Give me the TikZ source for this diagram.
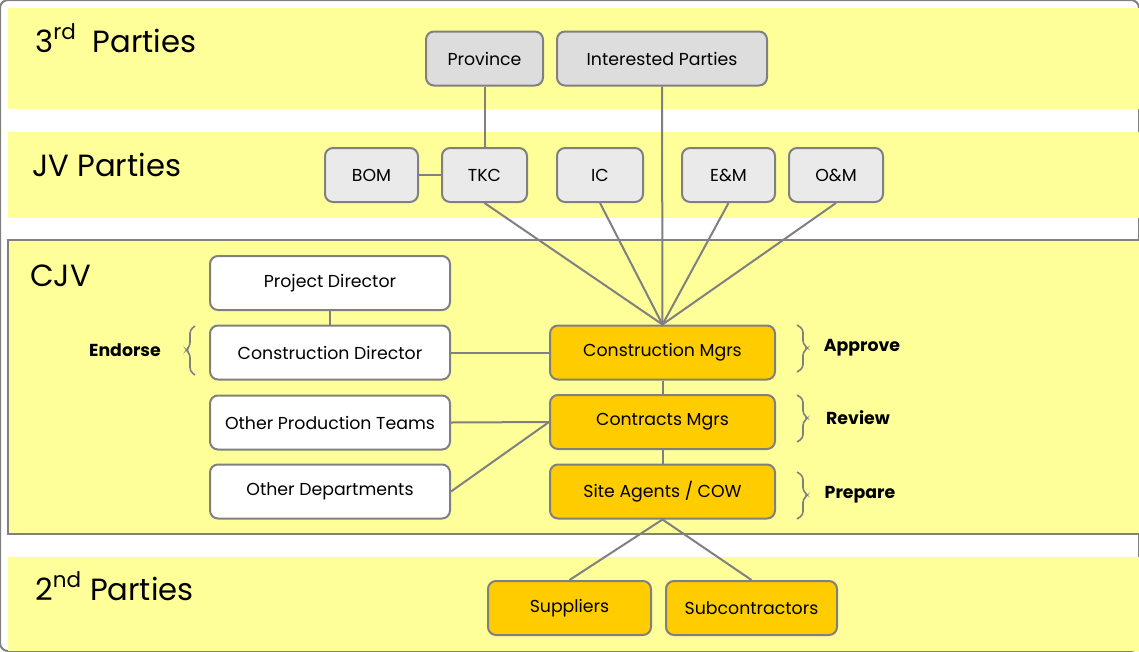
\documentclass[tikz,border=0pt]{standalone}
\usepackage{fontspec}
\setmainfont{Poppins}
\begin{document}
\begin{tikzpicture}[x=0.75pt,y=-0.75pt,
  box/.style={draw=linegray,line width=1.5pt,rounded corners=6pt,inner sep=0pt,
    minimum height=40.5pt,font=\fontsize{13}{15}\selectfont},
  third/.style={box,fill=gray3},
  jv/.style={box,fill=gray2},
  white/.style={box,fill=white},
  orange/.style={box,fill=orangefill},
  conn/.style={draw=linegray,line width=1.5pt},
  band/.style={font=\fontsize{23}{26}\selectfont,anchor=base west,inner sep=0pt},
  act/.style={font=\fontsize{13}{15}\selectfont\bfseries,inner sep=0pt},
  brace/.style={draw=linegray,line width=1.2pt,rounded corners=2.5pt}]
\definecolor{bandyellow}{RGB}{255,255,153}
\definecolor{linegray}{RGB}{128,128,128}
\definecolor{gray3}{RGB}{221,221,221}
\definecolor{gray2}{RGB}{234,234,234}
\definecolor{orangefill}{RGB}{255,204,0}
\useasboundingbox (0,0) rectangle (1139,651);
\fill[white] (0,0) rectangle (1139,651);
% bands
\fill[bandyellow] (8,8) rectangle (1145,109);
\fill[bandyellow] (8,132) rectangle (1145,218);
\filldraw[fill=bandyellow,draw=linegray,line width=1.5pt] (8,240) rectangle (1150,534);
\fill[bandyellow] (8,557) rectangle (1145,651);
% band labels
\node[band] (l3) at (35,52) {3\textsuperscript{rd}\ \ Parties};
\node[band] (ljv) at (32,176) {JV Parties};
\node[band] (lcjv) at (30,286) {CJV};
\node[band] (l2) at (35,600) {2\textsuperscript{nd}\ Parties};
% 3rd parties
\node[third,minimum width=87.75pt] (prov) at (484.5,58.5) {Province};
\node[third,minimum width=157.5pt] (ip) at (662,58.5) {Interested Parties};
% JV
\node[jv,minimum width=69.75pt] (bom) at (371.5,175) {BOM};
\node[jv,minimum width=63.75pt] (tkc) at (484.5,175) {TKC};
\node[jv,minimum width=64.5pt] (ic) at (600,175) {IC};
\node[jv,minimum width=69.75pt] (em) at (728.5,175) {E\&M};
\node[jv,minimum width=70.5pt] (om) at (836,175) {O\&M};
% CJV left
\node[white,minimum width=180pt] (pd) at (330,283) {Project Director};
\node[white,minimum width=180pt] (cd) at (330,352.5) {Construction Director};
\node[white,minimum width=180pt] (opt) at (330,422.5) {Other Production Teams};
\node[white,minimum width=180pt] (od) at (330,491.5) {Other Departments};
% CJV right
\node[orange,minimum width=168.75pt] (cm) at (662.5,352.5) {Construction Mgrs};
\node[orange,minimum width=168.75pt] (ctm) at (662.5,422) {Contracts Mgrs};
\node[orange,minimum width=168.75pt] (sa) at (662.5,491.5) {Site Agents / COW};
% 2nd parties
\node[orange,minimum width=122.25pt] (sup) at (569.5,608) {Suppliers};
\node[orange,minimum width=128.25pt] (sub) at (751.5,608) {Subcontractors};
% actions
\node[act] (endorse) at (125,350) {Endorse};
\node[act] (approve) at (862,348) {Approve};
\node[act] (review) at (858,418) {Review};
\node[act] (prepare) at (860,495) {Prepare};
% braces
\draw[brace] (195,326) -- (190,330) -- (190,346) -- (186,350) -- (190,354) -- (190,371) -- (195,375);
\draw[brace] (797,325) -- (803,329) -- (803,344) -- (808,348) -- (803,352) -- (803,368) -- (797,372);
\draw[brace] (797,395) -- (803,399) -- (803,414) -- (808,418) -- (803,422) -- (803,438) -- (797,442);
\draw[brace] (797,472) -- (803,476) -- (803,491) -- (808,495) -- (803,499) -- (803,515) -- (797,519);
% connectors
\draw[conn] (prov.south) -- (tkc.north);
\draw[conn] (bom.east) -- (tkc.west);
\draw[conn] (ip.south) -- (cm.north);
\draw[conn] (tkc.south) -- (cm.north);
\draw[conn] (ic.south) -- (cm.north);
\draw[conn] (em.south) -- (cm.north);
\draw[conn] (om.south) -- (cm.north);
\draw[conn] (pd.south) -- (cd.north);
\draw[conn] (cd.east) -- (cm.west);
\draw[conn] (opt.east) -- (ctm.west);
\draw[conn] (od.east) -- (ctm.west);
\draw[conn] (cm.south) -- (ctm.north);
\draw[conn] (ctm.south) -- (sa.north);
\draw[conn] (sa.south) -- (sup.north);
\draw[conn] (sa.south) -- (sub.north);
\end{tikzpicture}
\end{document}
